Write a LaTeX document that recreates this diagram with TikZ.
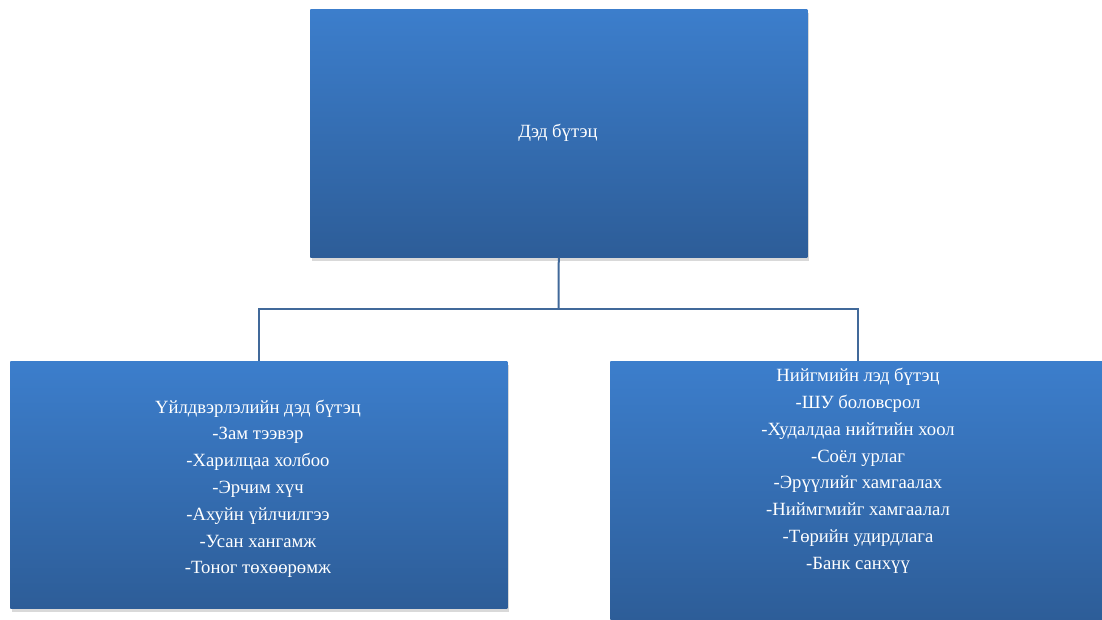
\documentclass[tikz,border=0pt]{standalone}
\usepackage{fontspec}
\setmainfont{Liberation Serif}
\usetikzlibrary{shadows}
\definecolor{boxtop}{HTML}{3C7ECC}
\definecolor{boxbot}{HTML}{2D5D98}
\definecolor{linec}{HTML}{41699A}
\begin{document}
\begin{tikzpicture}[x=0.75pt,y=-0.75pt,
  box/.style={rectangle, inner sep=0pt, top color=boxtop, bottom color=boxbot, draw=none,
    drop shadow={shadow xshift=1.5pt, shadow yshift=-2.5pt, opacity=0.25, fill=black!60}},
  txt/.style={text=white, font=\fontsize{14}{20.1}\selectfont, align=center, inner sep=0pt},
  conn/.style={draw=linec, line width=1.5pt}]
\useasboundingbox (0,0) rectangle (1102,620);
\node[box, minimum width=372.75pt, minimum height=186pt, anchor=north west] (top) at (310,9) {};
\node[box, minimum width=372.75pt, minimum height=185.25pt, anchor=north west] (left) at (10,361) {};
\node[box, minimum width=369pt, minimum height=194.25pt, anchor=north west] (right) at (610,361) {};
\node[txt] (toptxt) at (558,133) {Дэд бүтэц};
\node[txt, anchor=north] (lefttxt) at (258,399.5) {Үйлдвэрлэлийн дэд бүтэц\\-Зам тээвэр\\-Харилцаа холбоо\\-Эрчим хүч\\-Ахуйн үйлчилгээ\\-Усан хангамж\\-Тоног төхөөрөмж};
\node[txt, anchor=north] (righttxt) at (858,368) {Нийгмийн лэд бүтэц\\-ШУ боловсрол\\-Худалдаа нийтийн хоол\\-Соёл урлаг\\-Эрүүлийг хамгаалах\\-Ниймгмийг хамгаалал\\-Төрийн удирдлага\\-Банк санхүү};
\coordinate (mid) at (558.5,309);
\draw[conn] (top.south) -- (mid);
\draw[conn] (mid) -| (left.north);
\draw[conn] (mid) -| (858,361);
\end{tikzpicture}
\end{document}
